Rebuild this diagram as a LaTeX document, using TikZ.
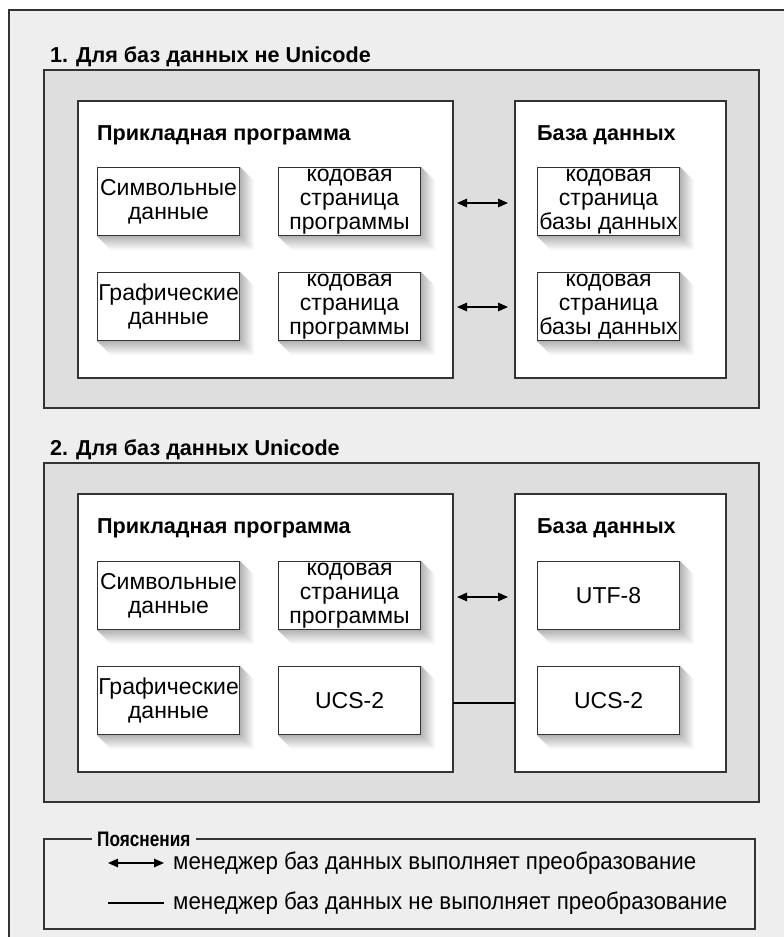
\documentclass[tikz,border=0pt]{standalone}
\usepackage{fontspec}
\setmainfont{Liberation Sans}
\newfontfamily\narrowfont[FakeStretch=0.93]{Liberation Sans}
\newfontfamily\narrowerfont[FakeStretch=0.82]{Liberation Sans}
\usetikzlibrary{arrows.meta}
\definecolor{bgout}{HTML}{EEEEEE}
\definecolor{bgsec}{HTML}{DEDEDE}
\definecolor{edge}{HTML}{333333}
\definecolor{shad}{HTML}{B4B4B4}
\pgfdeclarelayer{back}
\pgfdeclarelayer{mid}
\pgfsetlayers{back,mid,main}
\tikzset{
  secbox/.style={draw=edge, line width=1.1pt, fill=bgsec},
  panel/.style={draw=edge, line width=1.1pt, fill=white},
  item/.style={draw=edge, line width=1.1pt, fill=white, minimum width=142pt, minimum height=68pt,
     inner sep=0pt, align=center, anchor=north west, font=\fontsize{23}{24}\selectfont},
  ttl/.style={anchor=base west, inner sep=0pt, font=\bfseries\fontsize{21.6}{24}\selectfont},
  conv/.style={{Triangle[length=10pt,width=8.5pt]}-{Triangle[length=10pt,width=8.5pt]}, line width=1.3pt, black},
  plain/.style={line width=1.1pt, black},
  legtxt/.style={anchor=west, inner sep=0pt, font=\narrowfont\fontsize{24}{26}\selectfont},
}
\newcommand{\boxshadow}[1]{%
  \shade[left color=shad, right color=white] (#1.north east) -- ++(14,14) -- ([shift={(14,14)}]#1.south east) -- (#1.south east) -- cycle;
  \shade[top color=shad, bottom color=white] (#1.south west) -- ++(14,14) -- ([shift={(14,14)}]#1.south east) -- (#1.south east) -- cycle;
}
\begin{document}
\begin{tikzpicture}[x=1pt,y=-1pt]
\useasboundingbox (0,0) rectangle (784,937);
\begin{pgfonlayer}{back}
\fill[white] (0,0) rectangle (784,937);
\fill[bgout] (9,10) rectangle (784,937);
\draw[edge, line width=1.2pt] (784,10) -- (9,10) -- (9,937);
\draw[secbox] (44,70) rectangle (759,408);
\draw[panel] (78,101) rectangle (453,378);
\draw[panel] (515,101) rectangle (726,378);
\draw[secbox] (44,463) rectangle (759,802);
\draw[panel] (78,494) rectangle (453,772);
\draw[panel] (515,494) rectangle (726,772);
\end{pgfonlayer}

% ---------- Section 1 ----------
\node[ttl] (t1) at (50,62) {1. Для баз данных не Unicode};
\node[ttl] (app1) at (97,140) {Прикладная программа};
\node[ttl] (db1t) at (537,140) {База данных};

\node[item] (s1) at (97,167) {Символьные\\данные};
\node[item] (c1) at (278,167) {кодовая\\страница\\программы};
\node[item] (g1) at (97,272) {Графические\\данные};
\node[item] (c2) at (278,272) {кодовая\\страница\\программы};
\node[item] (d1) at (537,167) {кодовая\\страница\\базы данных};
\node[item] (d2) at (537,272) {кодовая\\страница\\базы данных};

% ---------- Section 2 ----------
\node[ttl] (t2) at (50,455) {2. Для баз данных Unicode};
\node[ttl] (app2) at (97,533) {Прикладная программа};
\node[ttl] (db2t) at (537,533) {База данных};

\node[item] (s2) at (97,561) {Символьные\\данные};
\node[item] (c3) at (278,561) {кодовая\\страница\\программы};
\node[item] (g2) at (97,666) {Графические\\данные};
\node[item] (u1) at (278,666) {UCS-2};
\node[item] (d3) at (537,561) {UTF-8};
\node[item] (d4) at (537,666) {UCS-2};

% shadows
\begin{pgfonlayer}{mid}
\foreach \n in {s1,c1,g1,c2,d1,d2,s2,c3,g2,u1,d3,d4} {\boxshadow{\n}}
\end{pgfonlayer}

% connectors
\coordinate (a1l) at (457,203); \coordinate (a1r) at (508,203);
\coordinate (a2l) at (457,307); \coordinate (a2r) at (508,307);
\coordinate (a3l) at (457,597); \coordinate (a3r) at (508,597);
\coordinate (l1l) at (453,703); \coordinate (l1r) at (515,703);
\draw[conv] (a1l) -- (a1r);
\draw[conv] (a2l) -- (a2r);
\draw[conv] (a3l) -- (a3r);
\draw[plain] (l1l) -- (l1r);

% ---------- Legend ----------
\draw[edge, line width=1.1pt] (44,839) rectangle (755,929);
\node[fill=bgout, inner xsep=5pt, inner ysep=2pt, anchor=west, font=\narrowerfont\bfseries\fontsize{21}{24}\selectfont] (leg) at (92,839) {Пояснения};
\coordinate (k1l) at (108,863); \coordinate (k1r) at (164,863);
\coordinate (k2l) at (108,903); \coordinate (k2r) at (164,903);
\draw[conv] (k1l) -- (k1r);
\draw[plain] (k2l) -- (k2r);
\node[legtxt] (lt1) at (173,863) {менеджер баз данных выполняет преобразование};
\node[legtxt] (lt2) at (173,903) {менеджер баз данных не выполняет преобразование};
\end{tikzpicture}
\end{document}
